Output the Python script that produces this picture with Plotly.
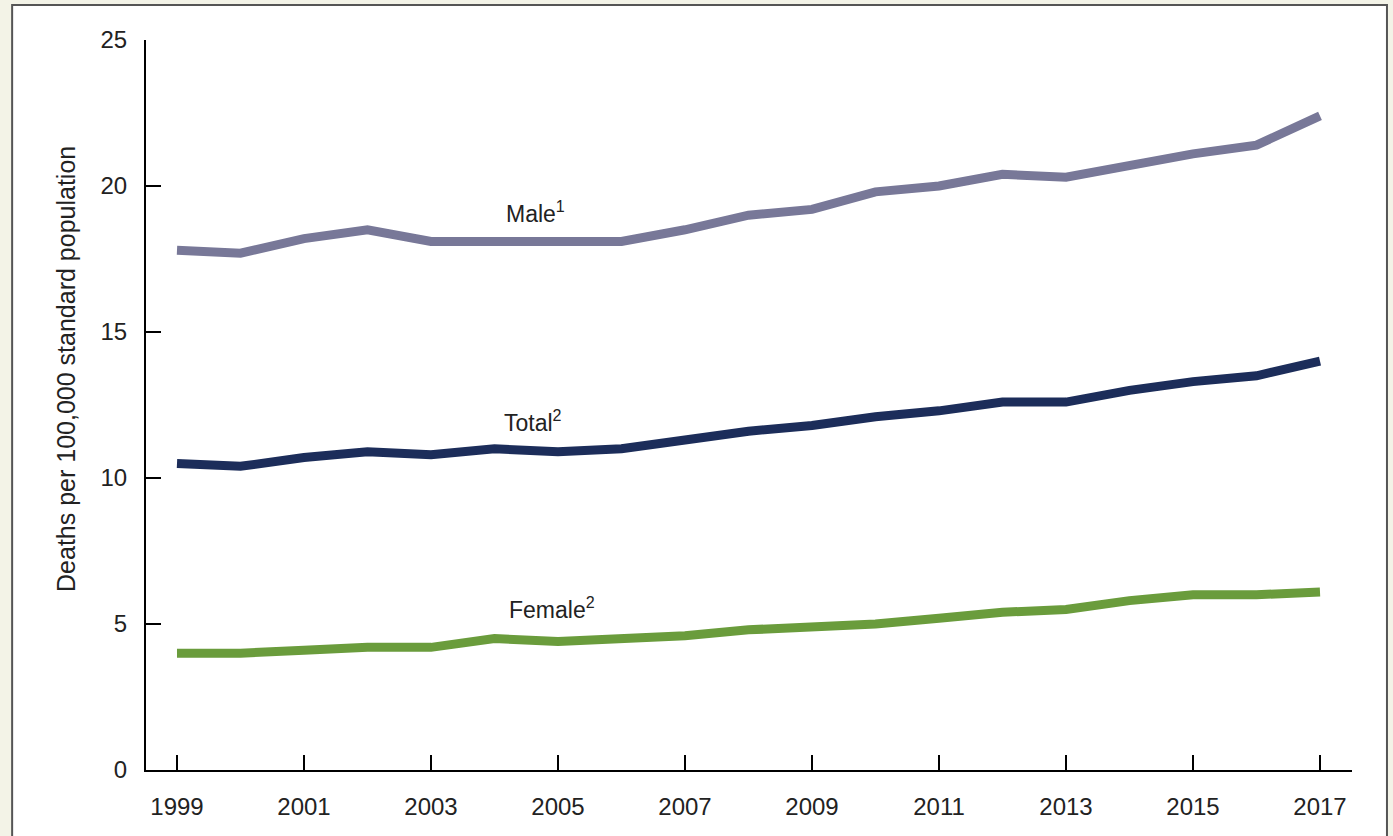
import plotly.graph_objects as go

years = list(range(1999, 2018))
male = [17.8, 17.7, 18.2, 18.5, 18.1, 18.1, 18.1, 18.1, 18.5, 19.0,
        19.2, 19.8, 20.0, 20.4, 20.3, 20.7, 21.1, 21.4, 22.4]
total = [10.5, 10.4, 10.7, 10.9, 10.8, 11.0, 10.9, 11.0, 11.3, 11.6,
         11.8, 12.1, 12.3, 12.6, 12.6, 13.0, 13.3, 13.5, 14.0]
female = [4.0, 4.0, 4.1, 4.2, 4.2, 4.5, 4.4, 4.5, 4.6, 4.8,
          4.9, 5.0, 5.2, 5.4, 5.5, 5.8, 6.0, 6.0, 6.1]
x_ticks = list(range(1999, 2018, 2))
y_ticks = [0, 5, 10, 15, 20, 25]

font = 'Liberation Sans, Arial, sans-serif'

fig = go.Figure()
for name, vals, col in [('Male', male, '#787898'),
                        ('Total', total, '#1c2d5a'),
                        ('Female', female, '#6a9c3c')]:
    fig.add_trace(go.Scatter(
        x=years, y=vals, mode='lines', name=name,
        line=dict(color=col, width=9), showlegend=False
    ))

# series labels
lab_font = dict(family=font, size=23, color='#222222')
fig.add_annotation(x=2004.64, y=19.1, text='Male<sup>1</sup>', showarrow=False, font=lab_font)
fig.add_annotation(x=2004.6, y=11.95, text='Total<sup>2</sup>', showarrow=False, font=lab_font)
fig.add_annotation(x=2004.9, y=5.55, text='Female<sup>2</sup>', showarrow=False, font=lab_font)

# y axis title (sits a little above the plot centre in the original)
fig.add_annotation(xref='paper', yref='paper', x=-0.079, y=0.549,
                   text='Deaths per 100,000 standard population', textangle=-90,
                   showarrow=False, font=dict(family=font, size=25, color='#222222'))

# white panel with border on beige page
fig.add_shape(type='rect', xref='paper', yref='paper',
              x0=-0.111, x1=1.029, y0=-0.12, y1=1.048,
              fillcolor='white', line=dict(color='#555555', width=2),
              layer='below')

fig.update_layout(
    width=1393, height=836,
    margin=dict(l=146, r=41, t=40, b=66),
    paper_bgcolor='#f3f3e7',
    plot_bgcolor='white',
    font=dict(family=font, size=24, color='#222222'),
    xaxis=dict(
        range=[1998.512, 2017.504], tickvals=x_ticks,
        showline=True, linecolor='black', linewidth=2,
        ticks='inside', ticklen=15, tickwidth=2, tickcolor='black',
        showgrid=False, zeroline=False, ticklabelstandoff=14,
        tickfont=dict(family=font, size=24, color='#222222')
    ),
    yaxis=dict(
        range=[0, 25], tickvals=y_ticks,
        showline=True, linecolor='black', linewidth=2,
        ticks='inside', ticklen=15, tickwidth=2, tickcolor='black',
        showgrid=False, zeroline=False, ticklabelstandoff=12,
        tickfont=dict(family=font, size=24, color='#222222')
    ),
)

fig.write_html('out.html', config={'displayModeBar': False},
               post_script="document.body.style.margin='0';")
